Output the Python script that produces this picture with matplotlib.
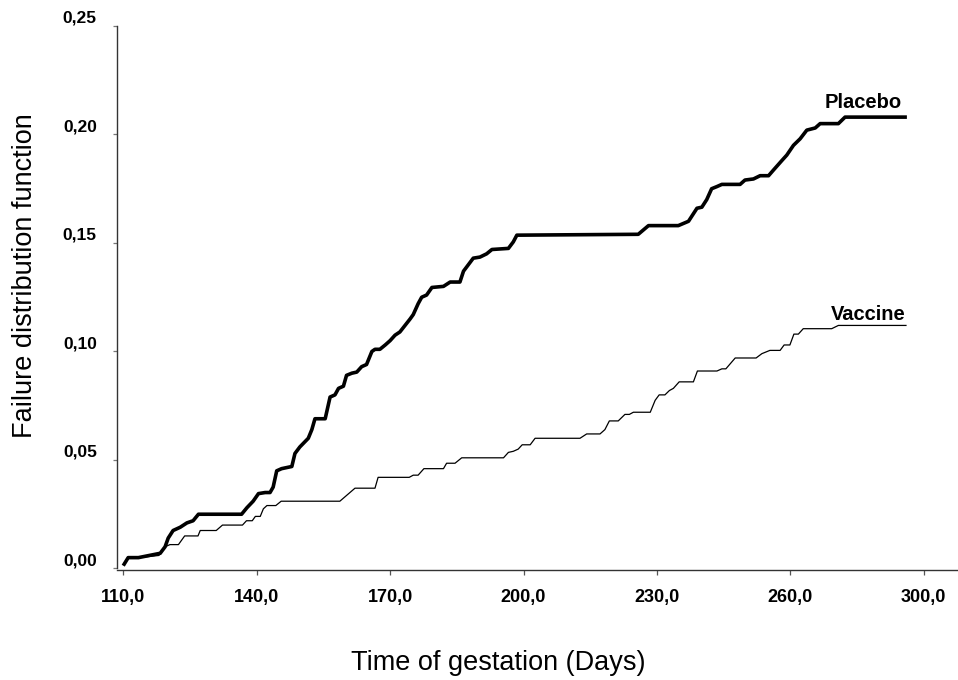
import matplotlib
matplotlib.use("Agg")
import matplotlib.pyplot as plt

# Placebo curve (days, failure distribution)
placebo_days = [110.2, 111.1, 113.4, 118.3, 119.4, 120.1, 121.2, 122.8, 124.3, 125.7,
                126.9, 127.6, 136.6, 137.8, 139.2, 140.4, 141.9, 143.0, 143.7, 144.5,
                145.6, 147.9, 148.6, 149.7, 151.6, 152.4, 153.1, 155.4, 156.5, 157.6,
                158.4, 159.5, 160.2, 161.4, 162.5, 163.6, 164.7, 165.9, 166.6, 167.7,
                168.9, 170.0, 171.1, 172.2, 174.5, 175.2, 176.3, 177.1, 178.2, 179.4,
                182.0, 183.5, 185.7, 186.5, 187.6, 188.7, 190.2, 191.7, 192.9, 196.6,
                197.7, 198.5, 225.8, 228.1, 234.8, 237.1, 239.0, 240.1, 241.2, 242.3,
                243.5, 244.6, 248.7, 249.8, 251.7, 253.2, 255.1, 256.2, 258.1, 259.2,
                260.7, 262.2, 263.7, 265.6, 266.7, 270.8, 272.3, 285.8]
placebo_vals = [0.002, 0.005, 0.005, 0.007, 0.010, 0.014, 0.0175, 0.019, 0.021, 0.022,
                0.025, 0.025, 0.025, 0.028, 0.031, 0.0345, 0.035, 0.035, 0.0375, 0.045,
                0.046, 0.047, 0.053, 0.056, 0.060, 0.064, 0.069, 0.069, 0.079, 0.080,
                0.083, 0.084, 0.089, 0.090, 0.0905, 0.093, 0.094, 0.100, 0.101, 0.101,
                0.103, 0.105, 0.1075, 0.109, 0.115, 0.117, 0.122, 0.125, 0.126, 0.1295,
                0.130, 0.132, 0.132, 0.137, 0.140, 0.143, 0.1435, 0.145, 0.147, 0.1475,
                0.1505, 0.1536, 0.154, 0.158, 0.158, 0.160, 0.166, 0.1665, 0.170, 0.175,
                0.176, 0.177, 0.177, 0.179, 0.1795, 0.181, 0.181, 0.1836, 0.188, 0.1905,
                0.195, 0.198, 0.202, 0.203, 0.205, 0.205, 0.208, 0.208]

# Vaccine curve
vaccine_days = [110.2, 111.1, 113.4, 118.0, 119.4, 120.5, 122.4, 123.8, 126.8, 127.3,
                130.9, 132.3, 136.8, 137.7, 139.0, 139.7, 140.8, 141.5, 142.3, 144.3,
                145.5, 158.7, 162.1, 166.6, 167.3, 174.3, 175.2, 176.3, 177.6, 182.0,
                182.7, 184.6, 186.1, 195.5, 196.6, 197.7, 198.8, 199.7, 201.5, 202.6,
                212.7, 214.2, 217.2, 218.3, 219.3, 221.3, 222.8, 223.8, 224.7, 228.5,
                229.6, 230.5, 231.8, 232.8, 233.7, 235.0, 238.2, 239.1, 243.5, 244.6,
                245.5, 247.6, 252.3, 253.6, 255.4, 257.7, 258.6, 259.9, 260.8, 261.8,
                262.9, 269.3, 270.8, 286.0]
vaccine_vals = [0.0024, 0.005, 0.005, 0.006, 0.010, 0.011, 0.011, 0.015, 0.015, 0.0175,
                0.0175, 0.020, 0.020, 0.022, 0.022, 0.024, 0.024, 0.0275, 0.029, 0.029,
                0.031, 0.031, 0.037, 0.037, 0.042, 0.042, 0.043, 0.043, 0.046, 0.046,
                0.0485, 0.0485, 0.051, 0.051, 0.0535, 0.054, 0.055, 0.057, 0.057, 0.060,
                0.060, 0.062, 0.062, 0.064, 0.068, 0.068, 0.071, 0.071, 0.072, 0.072,
                0.0775, 0.080, 0.080, 0.082, 0.083, 0.086, 0.086, 0.091, 0.091, 0.092,
                0.092, 0.097, 0.097, 0.099, 0.1005, 0.1005, 0.103, 0.103, 0.108, 0.108,
                0.1105, 0.1105, 0.112, 0.112]

x_ticks = [110, 140, 170, 200, 230, 260, 290]
x_labels = ["110,0", "140,0", "170,0", "200,0", "230,0", "260,0", "300,0"]
y_ticks = [0.00, 0.05, 0.10, 0.15, 0.20, 0.25]
y_labels = ["0,00", "0,05", "0,10", "0,15", "0,20", "0,25"]

fonts = ["Liberation Sans", "DejaVu Sans"]
plt.rcParams['font.family'] = fonts

fig = plt.figure(figsize=(9.58, 6.8), dpi=100)
ax = fig.add_axes([0.1221, 0.164, 0.8779, 0.7978])

ax.plot(placebo_days, placebo_vals, color="black", lw=2.6, solid_joinstyle="round")
ax.plot(vaccine_days, vaccine_vals, color="black", lw=0.9)

ax.text(285.1, 0.212, "Placebo", ha="right", va="baseline", fontsize=14.5, fontweight="bold")
ax.text(286.0, 0.1147, "Vaccine", ha="right", va="baseline", fontsize=14.5, fontweight="bold")

for side in ["top", "right"]:
    ax.spines[side].set_visible(False)
for side in ["left", "bottom"]:
    ax.spines[side].set_color("#333333")
    ax.spines[side].set_linewidth(1.0)
ax.spines["bottom"].set_position(("outward", 1))

ax.set_xlim(108.58, 297.7)
ax.set_ylim(0, 0.25)
ax.set_xticks(x_ticks)
ax.set_xticklabels(x_labels, fontsize=13, fontweight="bold")
ax.set_yticks(y_ticks)
ax.set_yticklabels(y_labels, fontsize=12.5, fontweight="bold", va="bottom")

ax.tick_params(axis="x", direction="out", length=3.5, width=0.9, color="#555555", pad=10.5)
ax.tick_params(axis="y", direction="out", length=3.0, width=0.9, color="#777777", pad=11.5)

fig.text(498 / 958, 1 - 663 / 680, "Time of gestation (Days)", ha="center", va="center",
         fontsize=19.5)
fig.text(25 / 958, 1 - 276 / 680, "Failure distribution function", ha="center", va="center",
         rotation=90, fontsize=19.5)

fig.savefig("out.png", dpi=100)
